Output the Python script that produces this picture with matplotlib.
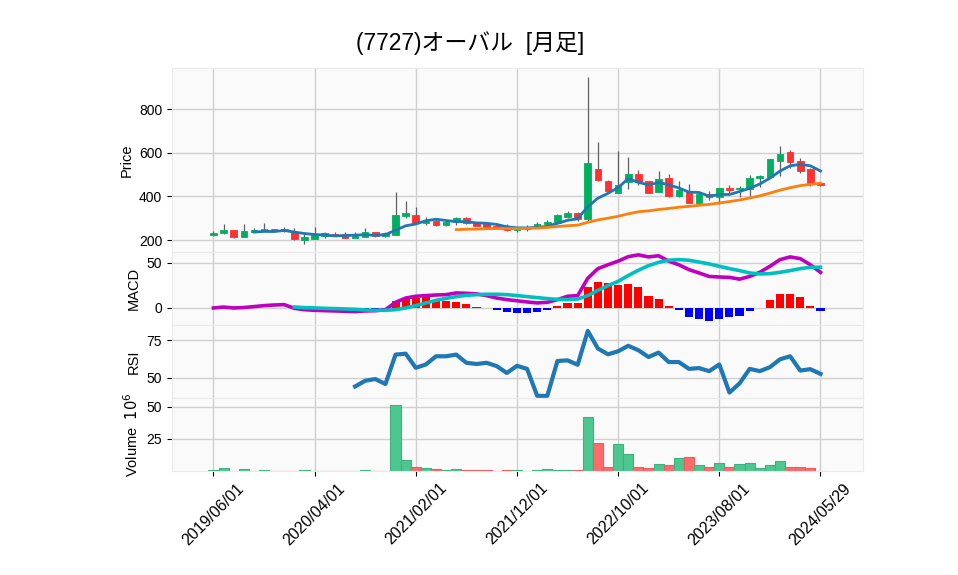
import numpy as np
import pandas as pd
import matplotlib
matplotlib.use("Agg")
import matplotlib.pyplot as plt

plt.rcParams['font.family'] = ['Liberation Sans', 'Noto Sans CJK JP', 'DejaVu Sans']

tick_pos = [0, 10, 20, 30, 40, 50, 60]
tick_labels = ['2019/06/01', '2020/04/01', '2021/02/01', '2021/12/01',
               '2022/10/01', '2023/08/01', '2024/05/29']

opens = [224, 234, 246, 215, 238, 243, 250, 249, 235, 202,
         206, 217, 227, 227, 211, 215, 237, 217, 224, 311,
         314, 279, 287, 270, 284, 299, 279, 276, 266, 261,
         246, 249, 261, 273, 279, 307, 322, 298, 525, 470,
         417, 467, 502, 470, 421, 485, 401, 424, 371, 409,
         395, 438, 433, 436, 482, 490, 563, 601, 562, 525, 459]
highs = [240, 273, 246, 273, 253, 276, 252, 258, 253, 227,
         258, 235, 235, 235, 235, 253, 238, 238, 421, 377,
         350, 307, 295, 292, 307, 304, 284, 281, 276, 273,
         258, 269, 281, 292, 319, 333, 330, 945, 647, 475,
         607, 581, 523, 472, 516, 501, 472, 455, 409, 426,
         438, 452, 447, 498, 498, 571, 630, 612, 574, 528, 462]
lows = [220, 229, 211, 215, 235, 240, 240, 236, 200, 180,
        205, 208, 218, 208, 208, 213, 213, 213, 222, 301,
        276, 267, 266, 266, 267, 273, 262, 253, 250, 243,
        236, 243, 256, 266, 276, 299, 287, 287, 472, 421,
        417, 433, 452, 414, 418, 398, 395, 371, 371, 383,
        363, 414, 398, 401, 444, 490, 493, 528, 505, 447, 449]
closes = [234, 246, 215, 241, 246, 249, 243, 240, 203, 214,
          226, 231, 220, 211, 223, 237, 217, 234, 314, 324,
          278, 292, 269, 284, 299, 276, 264, 261, 256, 246,
          253, 261, 273, 281, 314, 322, 296, 551, 475, 426,
          452, 502, 467, 417, 479, 401, 429, 371, 409, 395,
          438, 430, 438, 484, 493, 571, 594, 558, 517, 460, 452]
volume_m = [0.5, 2.4, 0.3, 1.6, 0.2, 0.5, 0.3, 0.3, 0.3, 0.5,
            0.2, 0.2, 0.3, 0.3, 0.2, 0.5, 0.3, 0.2, 51.6, 8.4,
            2.9, 2.1, 1.3, 0.5, 1.3, 0.5, 0.5, 0.5, 0.2, 0.5,
            0.5, 0.2, 0.5, 1.3, 0.5, 0.5, 0.5, 42.1, 21.6, 2.9,
            21.1, 13.2, 2.9, 2.1, 5.3, 4.5, 10.0, 10.8, 4.5, 2.9,
            6.1, 2.9, 5.3, 6.1, 2.1, 4.5, 7.6, 2.9, 2.9, 2.1, 0.2]
nan = np.nan
macd = [0, 1, 0, 0.5, 1.5, 2.6, 3.3, 3.7, -0.4, -1.9,
        -2.6, -3.0, -3.3, -3.7, -4.0, -3.3, -3.0, -1.9, 6.3, 11.0,
        13.0, 13.7, 14.4, 14.8, 16.7, 16.3, 15.6, 13.7, 11.0, 9.3,
        8.0, 6.7, 5.6, 6.3, 9.3, 13.0, 13.7, 33.0, 43.7, 48.0,
        52.0, 57.0, 59.0, 56.7, 58.0, 52.0, 48.0, 42.6, 38.9, 35.0,
        34.4, 34.0, 32.0, 35.0, 39.6, 46.3, 53.7, 56.7, 54.8, 48.0, 39.6]
signal = [nan] * 8 + [1.1, 0.4,
          0.0, -0.4, -0.7, -1.1, -1.5, -2.2, -2.6, -2.6, -1.9, 0.0,
          2.6, 5.6, 8.5, 10.7, 12.6, 14.0, 14.8, 15.2, 15.2, 14.8,
          13.7, 12.6, 11.5, 10.4, 9.6, 9.3, 10.0, 13.7, 19.6, 24.8,
          29.6, 36.0, 41.9, 47.0, 50.7, 53.0, 53.7, 53.0, 51.0, 48.9,
          46.3, 43.7, 41.5, 38.9, 37.8, 38.1, 39.6, 41.5, 43.7, 45.2, 45.2]
hist = [nan] * 8 + [-0.2, -0.3,
        -0.3, -0.3, -0.4, -0.5, -0.6, -1.0, -1.2, -0.6, 7.4, 10.0,
        11.0, 12.0, 9.0, 7.4, 7.0, 4.8, 1.5, -0.5, -2.6, -4.8,
        -5.6, -5.6, -4.4, -2.6, 1.9, 5.6, 5.6, 23.0, 28.5, 27.4,
        25.2, 27.0, 23.0, 13.7, 10.4, 1.9, -2.6, -10.4, -12.2, -14.8,
        -12.2, -10.4, -8.9, -3.7, 0.3, 8.5, 15.2, 15.2, 11.9, 2.6, -3.7]
rsi = [nan] * 14 + [44.4, 48.2, 49.3, 46.0, 65.4, 66.0,
       56.7, 58.9, 64.3, 64.3, 65.4, 60.0, 59.2, 60.0, 57.8, 53.3,
       58.0, 56.0, 38.2, 38.2, 61.2, 61.6, 58.7, 81.0, 69.4, 65.6,
       67.6, 71.2, 68.3, 63.8, 66.7, 60.5, 60.5, 56.0, 56.5, 54.5,
       58.9, 40.4, 46.4, 56.0, 54.5, 57.1, 62.3, 64.3, 54.9, 55.8, 52.7]

n = len(closes)
x = np.arange(n)
o = np.array(opens, float); c = np.array(closes, float)
h = np.array(highs, float); l = np.array(lows, float)
up = c >= o
ma5 = pd.Series(c).rolling(5).mean()
ma25 = pd.Series(c).rolling(25).mean()

UP, DN = '#00b060', '#fe3032'
VUP, VDN = '#4dc790', '#fd6b6c'
BG = '#fafafa'
GRID = '#d0d0d0'

fig = plt.figure(figsize=(9.58, 5.75), dpi=100)
L, W = 0.1795, 0.7213
ax1 = fig.add_axes([L, 0.5617, W, 0.3200])
ax2 = fig.add_axes([L, 0.4348, W, 0.1270], sharex=ax1)
ax3 = fig.add_axes([L, 0.3078, W, 0.1270], sharex=ax1)
ax4 = fig.add_axes([L, 0.1809, W, 0.1270], sharex=ax1)

for ax in (ax1, ax2, ax3, ax4):
    ax.set_facecolor(BG)
    ax.grid(True, color=GRID, lw=1.0)
    ax.set_axisbelow(True)
    for s in ax.spines.values():
        s.set_color('#eaeaea')
    ax.tick_params(axis='both', labelsize=10, color='black', length=3.5)

# candles
ax1.vlines(x, l, h, color='#606060', lw=0.9, zorder=2)
body_h = np.abs(c - o)
body_h = np.where(body_h < 1.5, 1.5, body_h)
ax1.bar(x, body_h, bottom=np.minimum(o, c), width=0.65,
        color=np.where(up, UP, DN), edgecolor=np.where(up, UP, DN),
        lw=0.6, zorder=3)
ax1.plot(x, ma5, color='#1f77b4', lw=2.0, zorder=4)
ax1.plot(x, ma25, color='#ff7f0e', lw=2.0, zorder=4)
ax1.set_ylim(145, 988)
ax1.set_yticks([200, 400, 600, 800])
ax1.set_ylabel('Price', fontsize=10.5)

# MACD
hv = np.array(hist, float)
ax2.bar(x, hv, width=0.8, color=np.where(hv >= 0, 'red', 'blue'), zorder=2)
ax2.plot(x, macd, color='#bf00bf', lw=2.6, zorder=3)
ax2.plot(x, signal, color='#00bfbf', lw=2.6, zorder=3)
ax2.set_ylim(-18.9, 62.2)
ax2.set_yticks([0, 50])
ax2.set_ylabel('MACD', fontsize=10.5)

# RSI
ax3.plot(x, rsi, color='#1f77b4', lw=3.0)
ax3.set_ylim(36.8, 84.9)
ax3.set_yticks([50, 75])
ax3.set_ylabel('RSI', fontsize=10.5)

# Volume
ax4.bar(x, volume_m, width=1.0, color=np.where(up, VUP, VDN),
        edgecolor=np.where(up, '#3fb07e', '#f05a5b'), lw=0.8, zorder=2)
ax4.set_ylim(0, 57)
ax4.set_yticks([25, 50])
ax4.set_ylabel('Volume  $10^{6}$', fontsize=10.5)

for ax in (ax1, ax2, ax3):
    ax.tick_params(axis='x', length=0, labelbottom=False)
ax4.set_xlim(-4.1, 64.2)
ax4.set_xticks(tick_pos)
ax4.set_xticklabels(tick_labels, rotation=45, ha='center', fontsize=11.5)

fig.text(470 / 958, 1 - 43 / 575, '(7727)オーバル  [月足]', ha='center', va='center',
         fontsize=16.5, family=['Liberation Sans', 'Noto Sans CJK JP'])

fig.savefig('out.png', dpi=100, facecolor='white')
